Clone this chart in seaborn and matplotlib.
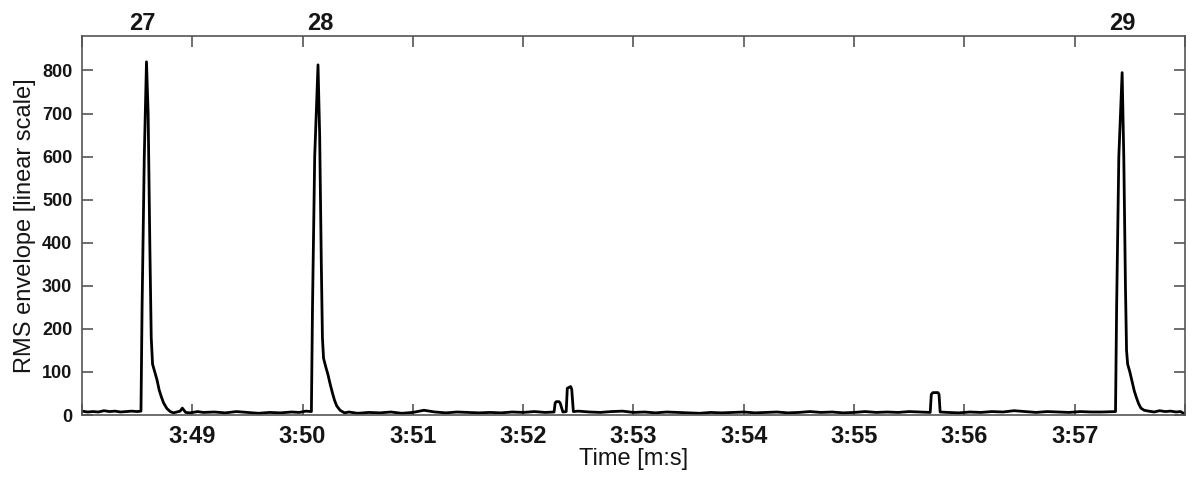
import matplotlib
matplotlib.use("Agg")
import matplotlib.pyplot as plt
import matplotlib.transforms as mtransforms
from matplotlib.ticker import FuncFormatter, MultipleLocator
import numpy as np
import pandas as pd
import seaborn as sns

# RMS envelope samples: time in seconds (228 s = 3:48) and envelope amplitude
time_s = [
    228.00, 228.05, 228.10, 228.15, 228.20, 228.25, 228.30, 228.35, 228.40, 228.45,
    228.50, 228.535,
    # call 27
    228.545, 228.565, 228.585, 228.60, 228.615, 228.628, 228.64, 228.66, 228.68,
    228.70, 228.72, 228.74, 228.77, 228.80, 228.83, 228.86, 228.89, 228.91, 228.94,
    228.98, 229.05, 229.10, 229.20, 229.30, 229.40, 229.50, 229.60, 229.70, 229.80,
    229.90, 229.97, 230.03, 230.08,
    # call 28
    230.09, 230.11, 230.14, 230.155, 230.17, 230.18, 230.19, 230.21, 230.23, 230.25,
    230.27, 230.29, 230.31, 230.34, 230.38, 230.42, 230.50, 230.60, 230.70, 230.80,
    230.90, 231.00, 231.10, 231.20, 231.30, 231.40, 231.50, 231.60, 231.70, 231.80,
    231.90, 232.00, 232.10, 232.20, 232.28,
    # double pulse near 3:52
    232.29, 232.30, 232.325, 232.335, 232.36, 232.39, 232.40, 232.43, 232.44, 232.455,
    232.50, 232.60, 232.70, 232.80, 232.90, 233.00, 233.10, 233.20, 233.30, 233.40,
    233.50, 233.60, 233.70, 233.80, 233.90, 234.00, 234.10, 234.20, 234.30, 234.40,
    234.50, 234.60, 234.70, 234.80, 234.90, 235.00, 235.10, 235.20, 235.30, 235.40,
    235.50, 235.60, 235.69,
    # single pulse near 3:55.7
    235.70, 235.715, 235.76, 235.77, 235.78,
    235.85, 235.95, 236.05, 236.15, 236.25, 236.35, 236.45, 236.55, 236.65, 236.75,
    236.85, 236.95, 237.05, 237.15, 237.25, 237.37,
    # call 29
    237.38, 237.40, 237.43, 237.445, 237.46, 237.47, 237.48, 237.50, 237.52, 237.54,
    237.56, 237.58, 237.60, 237.63, 237.67, 237.72, 237.77, 237.82, 237.87, 237.92,
    237.96, 237.985, 238.00,
]

rms = [
    9, 7, 8, 7, 10, 8, 9, 7, 8, 9,
    8, 9,
    250, 600, 820, 700, 400, 180, 118, 100, 82,
    58, 42, 28, 15, 8, 5, 7, 9, 16, 6,
    5, 8, 6, 7, 5, 8, 6, 4, 6, 5,
    7, 6, 9, 8,
    250, 600, 813, 650, 350, 180, 132, 112, 94, 72,
    52, 34, 21, 11, 5, 7, 4, 6, 5, 7,
    4, 6, 11, 7, 5, 7, 6, 5, 6, 5,
    7, 6, 8, 6, 7,
    28, 31, 31, 28, 7, 8, 62, 66, 60, 8,
    9, 7, 6, 8, 9, 6, 7, 5, 7, 6,
    5, 4, 6, 5, 6, 7, 5, 6, 7, 5,
    6, 8, 6, 7, 5, 6, 8, 6, 7, 6,
    8, 7, 6,
    48, 52, 52, 48, 7,
    6, 5, 7, 6, 8, 7, 10, 8, 6, 8,
    7, 6, 8, 7, 7, 8,
    250, 600, 795, 600, 300, 150, 118, 100, 78, 56,
    40, 26, 16, 11, 9, 7, 10, 8, 9, 7,
    8, 4, 2,
]

# Call numbers written above their onsets
call_labels = ["27", "28", "29"]
call_label_times = [228.55, 230.16, 237.43]

y_ticks = [0, 100, 200, 300, 400, 500, 600, 700, 800]

df = pd.DataFrame({"time": time_s, "rms": rms})

sns.set_style("ticks")
plt.rcParams["font.family"] = ["Liberation Sans", "DejaVu Sans"]

fig = plt.figure(figsize=(11.93, 4.80), dpi=100)
ax = fig.add_axes([0.0687, 0.1354, 0.9246, 0.7896])

sns.lineplot(data=df, x="time", y="rms", ax=ax, color="black",
             linewidth=2.0, estimator=None, sort=False)

ax.set_xlim(228, 238)
ax.set_ylim(0, 880)
ax.xaxis.set_major_locator(MultipleLocator(1))
ax.xaxis.set_major_formatter(
    FuncFormatter(lambda v, _: "" if v < 228.5 or v > 237.5
                  else f"{int(round(v)) // 60}:{int(round(v)) % 60:02d}"))
ax.set_yticks(y_ticks)

for side in ["left", "right", "top", "bottom"]:
    ax.spines[side].set_visible(True)
    ax.spines[side].set_color("#555555")
    ax.spines[side].set_linewidth(1.2)

ax.tick_params(axis="both", which="major", direction="in", color="#555555",
               length=8, width=1.2, top=True, right=True,
               labeltop=False, labelright=False)
ax.tick_params(axis="x", labelsize=17, pad=7, labelcolor="#151515")
ax.tick_params(axis="y", labelsize=13, pad=7, labelcolor="#151515")
for lab in ax.get_xticklabels() + ax.get_yticklabels():
    lab.set_fontweight("bold")

ax.set_xlabel("Time [m:s]", fontsize=17, labelpad=0, color="#151515")
ax.set_ylabel("RMS envelope [linear scale]", fontsize=17, labelpad=4,
              color="#151515")

trans = mtransforms.blended_transform_factory(ax.transData, ax.transAxes)
for t, lab in zip(call_label_times, call_labels):
    ax.text(t, 1.016, lab, transform=trans, ha="center", va="baseline",
            fontsize=17, fontweight="bold", color="#151515")

fig.savefig("out.png", dpi=100, facecolor="white")
